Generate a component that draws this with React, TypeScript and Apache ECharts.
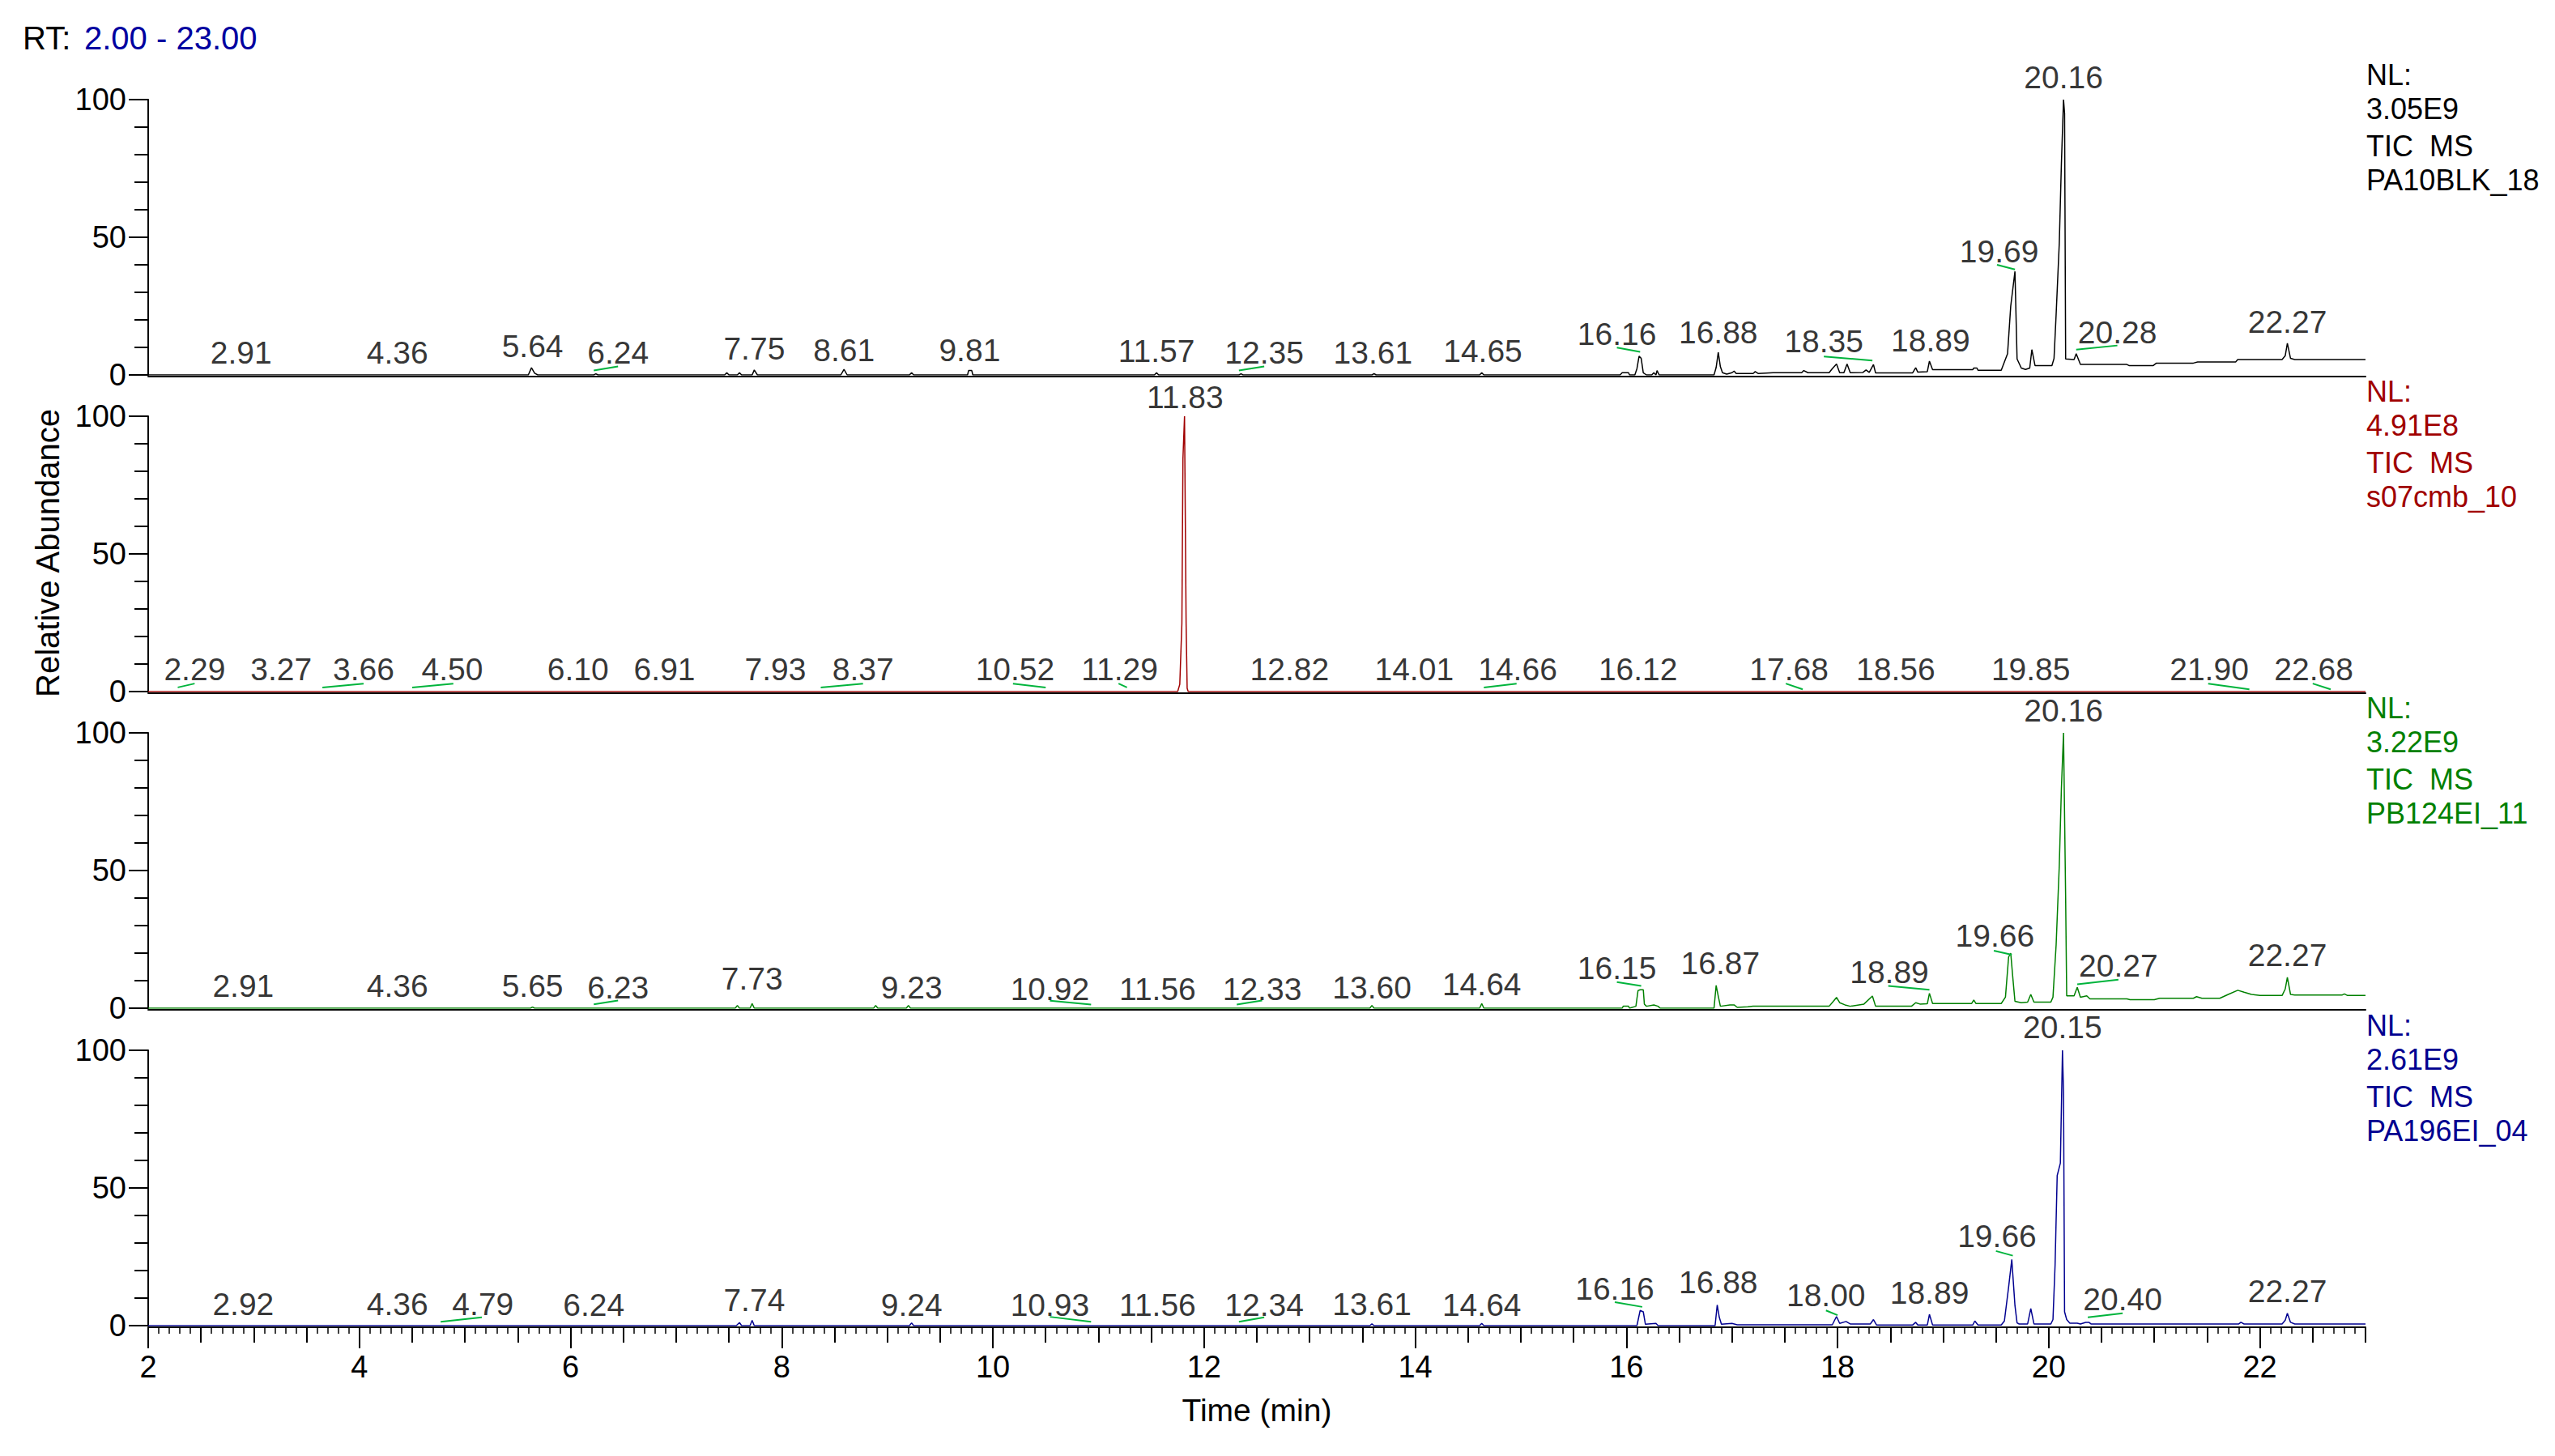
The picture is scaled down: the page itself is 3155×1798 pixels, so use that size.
import React, { useEffect, useRef } from 'react';
import * as echarts from 'echarts';

const FONT = '"Liberation Sans", Arial, Helvetica, sans-serif';

// ---------- chromatogram traces: [time (min), relative abundance %] ----------
const traceBLK = [
  [2.0, 0], [5.6, 0], [5.63, 2.6], [5.66, 0.6], [5.69, 0], [6.22, 0], [6.24, 0.4], [6.26, 0],
  [7.46, 0], [7.48, 0.8], [7.5, 0], [7.58, 0], [7.6, 0.8], [7.62, 0], [7.72, 0], [7.74, 1.8], [7.77, 0],
  [8.56, 0], [8.59, 2.0], [8.62, 0], [9.21, 0], [9.23, 0.8], [9.25, 0], [9.76, 0], [9.77, 1.6], [9.8, 1.6], [9.81, 0],
  [11.53, 0], [11.55, 0.8], [11.57, 0], [12.33, 0], [12.35, 0.4], [12.37, 0], [13.59, 0], [13.61, 0.5], [13.63, 0],
  [14.61, 0], [14.63, 0.8], [14.65, 0], [15.94, 0], [15.96, 0.8], [16.02, 0.8], [16.03, 0], [16.08, 0],
  [16.1, 2.3], [16.12, 6.8], [16.14, 6.0], [16.16, 0.8], [16.19, 0], [16.24, 0], [16.26, 0.8], [16.28, 0],
  [16.29, 1.6], [16.31, 0], [16.83, 0], [16.85, 2.7], [16.87, 8.2], [16.89, 3.0], [16.91, 0.8], [16.95, 0.3],
  [17.0, 0.8], [17.02, 1.4], [17.04, 0.5], [17.2, 0.5], [17.22, 1.2], [17.25, 0.5], [17.39, 0.8], [17.66, 0.8],
  [17.68, 1.6], [17.72, 0.8], [17.92, 0.8], [17.95, 2.3], [17.99, 4.0], [18.02, 0.8], [18.06, 0.8], [18.09, 4.0],
  [18.12, 0.8], [18.24, 0.9], [18.27, 1.8], [18.3, 0.9], [18.34, 3.8], [18.36, 0.7], [18.71, 0.7], [18.74, 2.6],
  [18.76, 1.0], [18.85, 1.2], [18.87, 5.0], [18.9, 1.9], [19.28, 1.9], [19.29, 2.5], [19.32, 2.5], [19.33, 1.7],
  [19.55, 1.7], [19.58, 4.7], [19.61, 7.7], [19.64, 25], [19.68, 37.6], [19.7, 5.8], [19.74, 2.5], [19.78, 2.0],
  [19.82, 2.5], [19.84, 9.2], [19.87, 3.4], [20.03, 3.4], [20.05, 6], [20.07, 22], [20.1, 48], [20.12, 77],
  [20.14, 100], [20.15, 95], [20.16, 5.8], [20.24, 5.6], [20.26, 7.7], [20.3, 3.8], [20.74, 3.8], [20.76, 3.4],
  [20.99, 3.4], [21.02, 4.3], [21.37, 4.3], [21.41, 4.7], [21.77, 4.7], [21.79, 5.6], [22.21, 5.6], [22.24, 7],
  [22.26, 11.5], [22.29, 6], [22.33, 5.6], [23.0, 5.6],
];

const traceCMB = [
  [2.0, 0], [11.75, 0], [11.77, 2.6], [11.79, 24.7], [11.8, 84.5], [11.815, 100], [11.83, 24.7],
  [11.84, 1.2], [11.85, 0], [23.0, 0],
];

const tracePB124 = [
  [2.0, 0], [5.62, 0], [5.64, 0.4], [5.66, 0], [7.56, 0], [7.58, 1.0], [7.6, 0], [7.7, 0], [7.72, 1.7], [7.74, 0],
  [8.87, 0], [8.89, 1.0], [8.91, 0], [9.18, 0], [9.2, 1.0], [9.22, 0], [13.57, 0], [13.59, 1.0], [13.61, 0],
  [14.61, 0], [14.63, 1.7], [14.65, 0], [15.96, 0], [15.97, 0.7], [16.02, 0.7], [16.03, 0], [16.09, 0.7],
  [16.11, 6.4], [16.13, 6.7], [16.16, 6.7], [16.17, 1.5], [16.19, 0.7], [16.26, 1.2], [16.3, 0.7], [16.32, 0],
  [16.83, 0], [16.85, 8.3], [16.87, 4.4], [16.89, 0.7], [16.98, 1.2], [17.02, 1.2], [17.05, 0.3], [17.15, 0.5],
  [17.2, 0.7], [17.92, 0.7], [17.96, 2.5], [17.99, 3.9], [18.02, 2.0], [18.07, 1.2], [18.12, 0.7], [18.25, 1.5],
  [18.33, 4.4], [18.36, 0.7], [18.7, 0.7], [18.74, 2.0], [18.78, 1.5], [18.85, 1.6], [18.87, 5.4], [18.9, 1.7],
  [19.27, 1.7], [19.29, 3.0], [19.31, 1.7], [19.55, 1.7], [19.59, 4.0], [19.62, 18.6], [19.64, 20], [19.66, 11],
  [19.68, 2.5], [19.74, 2.0], [19.8, 2.2], [19.83, 5.0], [19.86, 2.2], [20.02, 2.2], [20.04, 4.0], [20.07, 23],
  [20.1, 52], [20.12, 80], [20.14, 100], [20.16, 40], [20.17, 4.5], [20.24, 4.5], [20.27, 7.6], [20.3, 4.0],
  [20.36, 4.5], [20.39, 3.4], [20.74, 3.4], [20.77, 3.1], [21.0, 3.1], [21.05, 3.6], [21.37, 3.6], [21.4, 4.2],
  [21.45, 3.6], [21.62, 3.6], [21.7, 5], [21.79, 6.5], [21.85, 5.8], [21.92, 5.0], [22.0, 4.6], [22.21, 4.6],
  [22.24, 7], [22.26, 11.2], [22.29, 5], [22.33, 4.8], [22.78, 4.8], [22.8, 5.2], [22.83, 4.6], [23.0, 4.6],
];

const tracePA196 = [
  [2.0, 0], [7.57, 0], [7.6, 1.1], [7.62, 0], [7.7, 0], [7.72, 1.9], [7.74, 0], [9.21, 0], [9.23, 1.0], [9.25, 0],
  [13.57, 0], [13.59, 0.6], [13.61, 0], [14.61, 0], [14.63, 0.8], [14.65, 0], [16.1, 0], [16.13, 5.5], [16.16, 5.0],
  [16.18, 0.5], [16.28, 0.8], [16.3, 0], [16.84, 0], [16.86, 7.5], [16.88, 3], [16.9, 0.5], [17.0, 0.8], [17.05, 0.3],
  [17.95, 0.3], [17.99, 3.3], [18.02, 0.8], [18.08, 1.5], [18.12, 0.6], [18.31, 0.6], [18.34, 2.2], [18.37, 0.2],
  [18.71, 0.2], [18.74, 1.2], [18.76, 0.2], [18.85, 0.2], [18.87, 4.1], [18.9, 0.2], [19.28, 0.2], [19.3, 1.7],
  [19.33, 0.2], [19.55, 0.2], [19.58, 1.7], [19.62, 14], [19.65, 24], [19.68, 7.3], [19.7, 1.0], [19.72, 0.6],
  [19.8, 0.6], [19.83, 6.2], [19.86, 0.6], [20.02, 0.6], [20.04, 2.2], [20.06, 22], [20.08, 54.5], [20.11, 59],
  [20.13, 100], [20.14, 84.7], [20.15, 5], [20.17, 2.2], [20.2, 0.9], [20.27, 0.9], [20.3, 0.6], [20.35, 1.2],
  [20.38, 1.2], [20.4, 0.6], [21.8, 0.6], [21.82, 1.2], [21.85, 0.6], [22.21, 0.6], [22.24, 2], [22.26, 4.5],
  [22.29, 1.2], [22.33, 0.6], [23.0, 0.6],
];

// ---------- peak labels: [label time, label value, text] ----------
const labelsBLK = [
  [2.88, 8.1, '2.91'], [4.36, 8.1, '4.36'], [5.64, 10.5, '5.64'], [6.45, 8.1, '6.24'], [7.74, 9.6, '7.75'],
  [8.59, 9.1, '8.61'], [9.78, 9.1, '9.81'], [11.55, 8.7, '11.57'], [12.57, 8.1, '12.35'], [13.6, 8.1, '13.61'],
  [14.64, 8.7, '14.65'], [15.91, 15.0, '16.16'], [16.87, 15.5, '16.88'], [17.87, 12.1, '18.35'],
  [18.88, 12.6, '18.89'], [19.53, 44.9, '19.69'], [20.14, 108.1, '20.16'], [20.65, 15.5, '20.28'],
  [22.26, 19.3, '22.27'],
];
const labelsCMB = [
  [2.44, 8, '2.29'], [3.26, 8, '3.27'], [4.04, 8, '3.66'], [4.88, 8, '4.50'], [6.07, 8, '6.10'], [6.89, 8, '6.91'],
  [7.94, 8, '7.93'], [8.77, 8, '8.37'], [10.21, 8, '10.52'], [11.2, 8, '11.29'], [11.82, 107, '11.83'],
  [12.81, 8, '12.82'], [13.99, 8, '14.01'], [14.97, 8, '14.66'], [16.11, 8, '16.12'], [17.54, 8, '17.68'],
  [18.55, 8, '18.56'], [19.83, 8, '19.85'], [21.52, 8, '21.90'], [22.51, 8, '22.68'],
];
const labelsPB124 = [
  [2.9, 8.2, '2.91'], [4.36, 8.2, '4.36'], [5.64, 8.2, '5.65'], [6.45, 7.4, '6.23'], [7.72, 10.8, '7.73'],
  [9.23, 7.4, '9.23'], [10.54, 6.9, '10.92'], [11.56, 6.9, '11.56'], [12.55, 6.9, '12.33'], [13.59, 7.4, '13.60'],
  [14.63, 8.8, '14.64'], [15.91, 14.7, '16.15'], [16.89, 16.2, '16.87'], [18.49, 13.2, '18.89'],
  [19.49, 26.2, '19.66'], [20.14, 108.2, '20.16'], [20.66, 15.3, '20.27'], [22.26, 19.4, '22.27'],
];
const labelsPA196 = [
  [2.9, 7.9, '2.92'], [4.36, 7.9, '4.36'], [5.17, 7.9, '4.79'], [6.22, 7.4, '6.24'], [7.74, 9.4, '7.74'],
  [9.23, 7.4, '9.24'], [10.54, 7.4, '10.93'], [11.56, 7.4, '11.56'], [12.57, 7.4, '12.34'], [13.59, 7.9, '13.61'],
  [14.63, 7.4, '14.64'], [15.89, 13.4, '16.16'], [16.87, 15.7, '16.88'], [17.89, 10.9, '18.00'],
  [18.87, 11.8, '18.89'], [19.51, 32.6, '19.66'], [20.13, 108.3, '20.15'], [20.7, 9.5, '20.40'],
  [22.26, 12.4, '22.27'],
];

// ---------- leader lines from displaced labels to their peaks ----------
const leadersBLK = [
  [[6.22, 1.6], [6.45, 3.1]], [[12.33, 1.6], [12.57, 3.1]], [[15.91, 9.9], [16.13, 8.4]],
  [[17.87, 6.7], [18.33, 5.2]], [[19.51, 40], [19.68, 38.3]], [[20.26, 9.2], [20.65, 10.7]],
];
const leadersCMB = [
  [[2.28, 1.5], [2.44, 2.9]], [[3.65, 1.5], [4.04, 2.9]], [[4.5, 1.5], [4.89, 2.9]], [[8.37, 1.5], [8.77, 2.9]],
  [[10.19, 2.9], [10.5, 1.5]], [[11.19, 2.9], [11.27, 1.5]], [[14.65, 1.5], [14.96, 2.9]],
  [[17.51, 2.9], [17.67, 0.8]], [[21.51, 2.9], [21.9, 0.8]], [[22.5, 2.9], [22.67, 0.8]],
];
const leadersPB124 = [
  [[6.22, 1.4], [6.45, 2.8]], [[10.54, 2.7], [10.93, 1.3]], [[12.31, 1.3], [12.55, 2.8]],
  [[15.91, 9.5], [16.14, 8.1]], [[18.48, 8.1], [18.87, 6.7]], [[19.48, 20.9], [19.65, 19.4]],
  [[20.27, 8.7], [20.66, 10.4]],
];
const leadersPA196 = [
  [[4.77, 1.4], [5.16, 3.0]], [[10.54, 3.2], [10.93, 1.4]], [[12.33, 1.4], [12.57, 3.0]],
  [[15.89, 8.5], [16.15, 6.8]], [[17.89, 5.5], [18.0, 3.8]], [[19.5, 27.1], [19.66, 25.4]],
  [[20.37, 3.0], [20.7, 4.5]],
];

// ---------- axes ----------
const xTickLabels = [2, 4, 6, 8, 10, 12, 14, 16, 18, 20, 22];
const X_MIN = 2;
const X_MAX = 23;

const panels = [
  { file: 'PA10BLK_18', nl: '3.05E9', color: '#000000', trace: traceBLK, labels: labelsBLK, leaders: leadersBLK },
  { file: 's07cmb_10', nl: '4.91E8', color: '#a00000', trace: traceCMB, labels: labelsCMB, leaders: leadersCMB },
  { file: 'PB124EI_11', nl: '3.22E9', color: '#008000', trace: tracePB124, labels: labelsPB124, leaders: leadersPB124 },
  { file: 'PA196EI_04', nl: '2.61E9', color: '#000090', trace: tracePA196, labels: labelsPA196, leaders: leadersPA196 },
];

const GRID_TOPS = [123, 514, 905, 1297];
const GRID_LEFT = 183;
const GRID_RIGHT = 234;
const GRID_H = 340;

function buildOption() {
  const grid = GRID_TOPS.map((top) => ({ left: GRID_LEFT, right: GRID_RIGHT, top, height: GRID_H }));
  const xAxis: any[] = panels.map((_, i) => {
    const last = i === panels.length - 1;
    return {
      type: 'value', gridIndex: i, min: X_MIN, max: X_MAX, interval: 2, offset: 2, position: 'bottom',
      axisLine: { show: true, onZero: false, lineStyle: { color: '#000', width: 2 } },
      axisTick: { show: last, customValues: xTickLabels, length: 26, lineStyle: { color: '#000', width: 2 } },
      axisLabel: {
        show: last, customValues: xTickLabels, fontSize: 38, color: '#000',
        fontFamily: FONT, margin: 30,
      },
      splitLine: { show: false },
      name: last ? 'Time (min)' : '',
      nameLocation: 'middle', nameGap: 83,
      nameTextStyle: { fontSize: 39, color: '#000', fontFamily: FONT },
    };
  });
  // half-minute ticks and 0.1-minute ticks on the bottom axis
  xAxis.push({
    type: 'value', gridIndex: 3, min: X_MIN, max: X_MAX, interval: 0.5, offset: 2, position: 'bottom',
    axisLine: { show: false, onZero: false }, axisLabel: { show: false }, splitLine: { show: false },
    axisTick: { show: true, length: 19, lineStyle: { color: '#000', width: 2 } },
  });
  xAxis.push({
    type: 'value', gridIndex: 3, min: X_MIN, max: X_MAX, interval: 0.1, offset: 2, position: 'bottom',
    axisLine: { show: false, onZero: false }, axisLabel: { show: false }, splitLine: { show: false },
    axisTick: { show: true, length: 8, lineStyle: { color: '#000', width: 1.5 } },
  });

  const yAxis = panels.map((_, i) => ({
    type: 'value', gridIndex: i, min: 0, max: 100, interval: 50,
    axisLine: { show: true, onZero: false, lineStyle: { color: '#000', width: 2 } },
    axisTick: { show: true, length: 24, lineStyle: { color: '#000', width: 2 } },
    minorTick: { show: true, splitNumber: 5, length: 17, lineStyle: { color: '#000', width: 2 } },
    axisLabel: { fontSize: 38, color: '#000', fontFamily: FONT, margin: 27 },
    splitLine: { show: false },
    minorSplitLine: { show: false },
  }));

  const series: any[] = [];
  panels.forEach((p, i) => {
    series.push({
      type: 'line', xAxisIndex: i, yAxisIndex: i, data: p.trace, showSymbol: false, symbol: 'none',
      lineStyle: { color: p.color, width: 1.5 }, z: 3, silent: true,
    });
    series.push({
      type: 'lines', coordinateSystem: 'cartesian2d', xAxisIndex: i, yAxisIndex: i, z: 4, silent: true,
      data: p.leaders.map((c) => ({ coords: c })),
      lineStyle: { color: '#00b43c', width: 2, opacity: 1, curveness: 0 },
    });
    series.push({
      type: 'scatter', xAxisIndex: i, yAxisIndex: i, clip: false, z: 5, silent: true,
      symbol: 'circle', symbolSize: 1, itemStyle: { color: 'rgba(0,0,0,0)' },
      data: p.labels.map((l) => ({ value: [l[0], l[1]], name: l[2] })),
      label: {
        show: true, position: 'inside', formatter: (d: any) => d.name,
        fontSize: 39, color: '#000', fontFamily: FONT,
      },
    });
  });

  const graphic: any[] = [
    { type: 'text', left: 28, top: 27, style: { text: 'RT:', fill: '#000', font: `40px ${FONT}` } },
    { type: 'text', left: 104, top: 27, style: { text: '2.00 - 23.00', fill: '#0000a0', font: `40px ${FONT}` } },
    {
      type: 'text', x: 59, y: 683, rotation: Math.PI / 2,
      style: { text: 'Relative Abundance', fill: '#000', font: `40px ${FONT}`, align: 'center', verticalAlign: 'middle', textAlign: 'center', textVerticalAlign: 'middle' },
    },
  ];
  const offs = [-31, 11, 57, 99];
  panels.forEach((p, i) => {
    const texts = ['NL:', p.nl, 'TIC  MS', p.file];
    texts.forEach((t, k) => {
      graphic.push({
        type: 'text', x: 2922, y: GRID_TOPS[i] + offs[k],
        style: { text: t, fill: p.color, font: `36px ${FONT}`, verticalAlign: 'middle', textVerticalAlign: 'middle' },
      });
    });
  });

  return {
    animation: false,
    backgroundColor: '#ffffff',
    textStyle: { fontFamily: FONT },
    grid, xAxis, yAxis, series, graphic,
  };
}

export default function App() {
  const ref = useRef<HTMLDivElement>(null);
  useEffect(() => {
    if (!ref.current) return;
    const chart = echarts.init(ref.current, null, { renderer: 'svg' });
    chart.setOption(buildOption() as any);
    return () => chart.dispose();
  }, []);
  return (
    <div
      ref={ref}
      style={{ position: 'absolute', left: 0, top: 0, width: 3155, height: 1798, background: '#fff' }}
    />
  );
}
